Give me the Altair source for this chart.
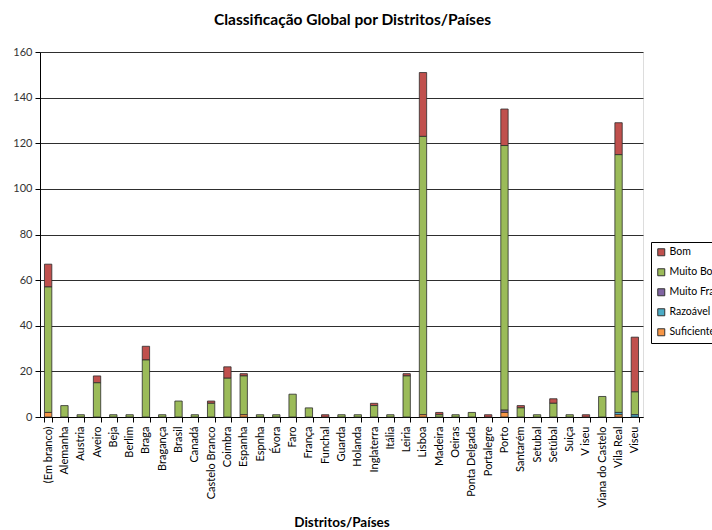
import altair as alt
import pandas as pd

# Districts / countries in axis order
categories = [
    "(Em branco)", "Alemanha", "Austria", "Aveiro", "Beja", "Berlim", "Braga",
    "Bragança", "Brasil", "Canadá", "Castelo Branco", "Coimbra", "Espanha",
    "Espnha", "Évora", "Faro", "França", "Funchal", "Guarda", "Holanda",
    "Inglaterra", "Itália", "Leiria", "Lisboa", "Madeira", "Oeiras",
    "Ponta Delgada", "Portalegre", "Porto", "Santarém", "Setubal", "Setúbal",
    "Suiça", "V iseu", "Viana do Castelo", "Vila Real", "Viseu",
]

# Counts per classification, aligned with categories
bom = [10, 0, 0, 3, 0, 0, 6, 0, 0, 0, 1, 5, 1, 0, 0, 0, 0, 1, 0, 0,
       1, 0, 1, 28, 1, 0, 0, 1, 16, 1, 0, 2, 0, 1, 0, 14, 24]
muito_bom = [55, 5, 1, 15, 1, 1, 25, 1, 7, 1, 6, 17, 17, 1, 1, 10, 4, 0, 1, 1,
             5, 1, 18, 122, 1, 1, 2, 0, 116, 4, 1, 6, 1, 0, 9, 113, 10]
muito_fraco = [0, 0, 0, 0, 0, 0, 0, 0, 0, 0, 0, 0, 0, 0, 0, 0, 0, 0, 0, 0,
               0, 0, 0, 0, 0, 0, 0, 0, 1, 0, 0, 0, 0, 0, 0, 0, 0]
razoavel = [0, 0, 0, 0, 0, 0, 0, 0, 0, 0, 0, 0, 0, 0, 0, 0, 0, 0, 0, 0,
            0, 0, 0, 0, 0, 0, 0, 0, 0, 0, 0, 0, 0, 0, 0, 1, 1]
suficiente = [2, 0, 0, 0, 0, 0, 0, 0, 0, 0, 0, 0, 1, 0, 0, 0, 0, 0, 0, 0,
              0, 0, 0, 1, 0, 0, 0, 0, 2, 0, 0, 0, 0, 0, 0, 1, 0]

series_names = ["Bom", "Muito Bom", "Muito Fraco", "Razoável", "Suficiente"]
series_colors = ["#c0504d", "#9bbb59", "#8064a2", "#4bacc6", "#f79646"]
# stacking position from the bottom of each column
stack_rank = {"Suficiente": 0, "Razoável": 1, "Muito Fraco": 2, "Muito Bom": 3, "Bom": 4}

series_values = [bom, muito_bom, muito_fraco, razoavel, suficiente]
rows = []
for name, values in zip(series_names, series_values):
    for cat, v in zip(categories, values):
        if v > 0:
            rows.append({"Distrito": cat, "Classificação": name,
                         "Valor": v, "ordem": stack_rank[name]})
df = pd.DataFrame(rows)

FONT = "Lato"

chart = alt.Chart(df).mark_bar(stroke="#2b2b2b", strokeWidth=0.8).encode(
    x=alt.X(
        "Distrito:N",
        sort=categories,
        scale=alt.Scale(paddingInner=0.55, paddingOuter=0.275),
        axis=alt.Axis(
            title="Distritos/Países",
            labelAngle=-90,
            labelAlign="right",
            labelBaseline="middle",
            labelFontSize=11,
            labelFont=FONT,
            labelColor="#000000",
            labelPadding=4,
            tickBand="extent",
            tickSize=5,
            tickColor="#000000",
            domainColor="#000000",
            titleFont=FONT,
            titleFontSize=13.5,
            titleFontWeight="bold",
            titleColor="#000000",
            titleBaseline="top",
            titleY=98,
        ),
    ),
    y=alt.Y(
        "Valor:Q",
        stack="zero",
        scale=alt.Scale(domain=[0, 160], nice=False),
        axis=alt.Axis(
            title=None,
            values=list(range(0, 161, 20)),
            labelFontSize=11,
            labelFont=FONT,
            labelColor="#333333",
            labelPadding=3,
            tickSize=5,
            tickColor="#000000",
            domainColor="#000000",
            grid=True,
            gridColor="#2e2e2e",
            gridWidth=1,
        ),
    ),
    color=alt.Color(
        "Classificação:N",
        scale=alt.Scale(domain=series_names, range=series_colors),
        legend=alt.Legend(
            title=None,
            orient="none",
            legendX=611,
            legendY=190,
            symbolType="square",
            symbolSize=49,
            symbolStrokeColor="#333333",
            symbolStrokeWidth=1,
            labelFont=FONT,
            labelFontSize=10.5,
            labelColor="#000000",
            labelOffset=3,
            rowPadding=8,
            padding=5,
            strokeColor="#000000",
            fillColor="#ffffff",
        ),
    ),
    order=alt.Order("ordem:Q", sort="ascending"),
).properties(
    width=603,
    height=365,
    autosize=alt.AutoSizeParams(type="none"),
    padding={"left": 40, "top": 52, "right": 69, "bottom": 113},
    title=alt.TitleParams(
        "Classificação Global por Distritos/Países",
        font=FONT,
        fontSize=15.5,
        fontWeight="bold",
        color="#000000",
        anchor="middle",
        dx=11,
        offset=18,
    ),
).configure_view(
    fill="#e3e3e3",
    stroke="#000000",
    strokeWidth=1,
).configure(background="#ffffff")

chart.save("out.html", embed_options={"renderer": "svg", "actions": False})
